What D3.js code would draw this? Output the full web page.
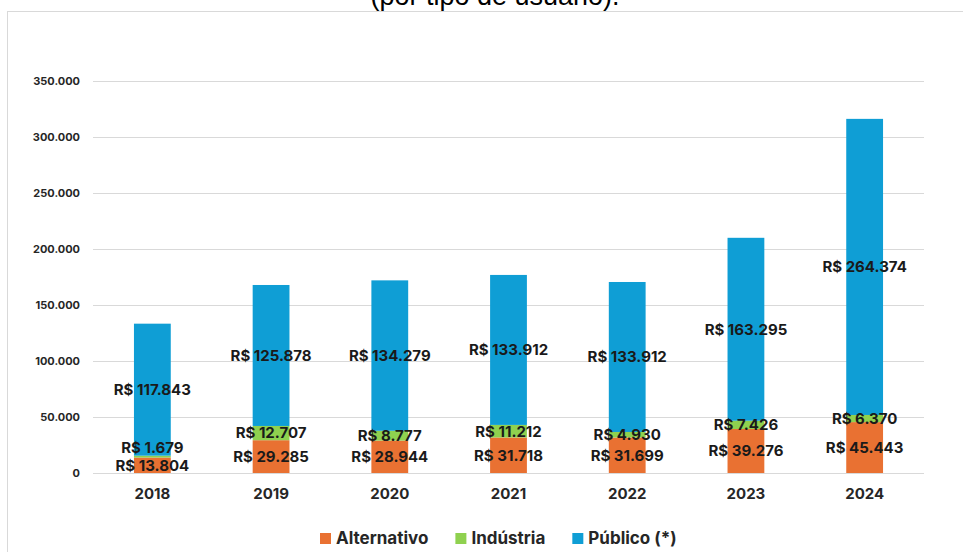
<!DOCTYPE html>
<html><head><meta charset="utf-8">
<script src="https://cdn.jsdelivr.net/npm/d3@7"></script>
<style>body{margin:0;background:#fff}svg{display:block}</style>
</head><body>
<svg id="c" width="963" height="552"></svg>
<script>
const years = ["2018","2019","2020","2021","2022","2023","2024"];
const alternativo = [13804, 29285, 28944, 31718, 31699, 39276, 45443];
const industria = [1679, 12707, 8777, 11212, 4930, 7426, 6370];
const publico = [117843, 125878, 134279, 133912, 133912, 163295, 264374];
const seriesNames = ["Alternativo", "Indústria", "Público (*)"];
const seriesColors = ["#E97132", "#8FD14F", "#0F9ED5"];
const yTicks = [0, 50000, 100000, 150000, 200000, 250000, 300000, 350000];
const titleText = "(por tipo de usuário).";

const loc = d3.formatLocale({decimal: ",", thousands: ".", grouping: [3], currency: ["R$ ", ""]});
const fmt = loc.format(",d");
const fmtR = v => "R$ " + fmt(v);

const svg = d3.select("#c");
const font = "Inter, 'Open Sans', sans-serif";

// frame
svg.append("rect").attr("x", 7.5).attr("y", 11.5).attr("width", 1000).attr("height", 600)
  .attr("fill", "#fff").attr("stroke", "#d9d9d9").attr("stroke-width", 1);

// title (partially cut at top, as in the reference)
svg.append("text").attr("x", 495).attr("y", 5).attr("text-anchor", "middle")
  .attr("font-family", "'Liberation Sans', Arial, sans-serif").attr("font-size", 27)
  .attr("fill", "#000").text(titleText);

const x = d3.scaleBand().domain(years).range([93, 924]).paddingInner(0.69).paddingOuter(0.345);
const y = d3.scaleLinear().domain([0, 350000]).range([473, 81]);

// gridlines
svg.append("g").selectAll("line").data(yTicks).join("line")
  .attr("x1", 93).attr("x2", 924).attr("y1", d => Math.round(y(d)) + 0.5).attr("y2", d => Math.round(y(d)) + 0.5)
  .attr("stroke", "#d9d9d9").attr("stroke-width", 1);

// y axis labels
const yAxis = d3.axisLeft(y).tickValues(yTicks).tickFormat(d => fmt(d)).tickSize(0).tickPadding(0);
const ga = svg.append("g").attr("transform", "translate(80,0)").call(yAxis);
ga.select(".domain").remove();
ga.selectAll("text").attr("font-family", font).attr("font-weight", "bold").attr("font-size", 11).attr("fill", "#262626");

// x axis labels
const xAxis = d3.axisBottom(x).tickSize(0).tickPadding(0);
const gx = svg.append("g").attr("transform", "translate(0,488)").call(xAxis);
gx.select(".domain").remove();
gx.selectAll("text").attr("font-family", font).attr("font-weight", "bold").attr("font-size", 15).attr("fill", "#262626");

// stacked data
const rows = years.map((yr, i) => ({year: yr, a: alternativo[i], b: industria[i], c: publico[i]}));
const stack = d3.stack().keys(["a", "b", "c"]);
const stacked = stack(rows);

const gBars = svg.append("g");
stacked.forEach((s, si) => {
  gBars.append("g").selectAll("rect").data(s).join("rect")
    .attr("x", d => x(d.data.year))
    .attr("width", x.bandwidth())
    .attr("y", d => y(d[1]))
    .attr("height", d => y(d[0]) - y(d[1]))
    .attr("fill", seriesColors[si]);
});

// labels
const gLab = svg.append("g").attr("font-family", font).attr("font-weight", "bold").attr("font-size", 15)
  .attr("fill", "#1a1a1a").attr("text-anchor", "middle");
years.forEach((yr, i) => {
  const cx = x(yr) + x.bandwidth() / 2;
  const cy = stacked.map(s => (y(s[i][0]) + y(s[i][1])) / 2);
  // simple overlap avoidance between first two labels
  if (cy[1] > cy[0] - 18) cy[1] = cy[0] - 18;
  stacked.forEach((s, si) => {
    const v = s[i][1] - s[i][0];
    gLab.append("text").attr("x", cx).attr("y", cy[si]).attr("dy", "0.36em").text(fmtR(v));
  });
});

// legend
const lg = svg.append("g").attr("font-family", font).attr("font-weight", "bold").attr("font-size", 17).attr("fill", "#262626");
let lx = 320;
seriesNames.forEach((n, i) => {
  lg.append("rect").attr("x", lx).attr("y", 533).attr("width", 11).attr("height", 11).attr("fill", seriesColors[i]);
  const t = lg.append("text").attr("x", lx + 16).attr("y", 538).attr("dy", "0.36em").text(n);
  const w = t.node().getComputedTextLength();
  lx += 16 + w + 27;
});
</script>
</body></html>
